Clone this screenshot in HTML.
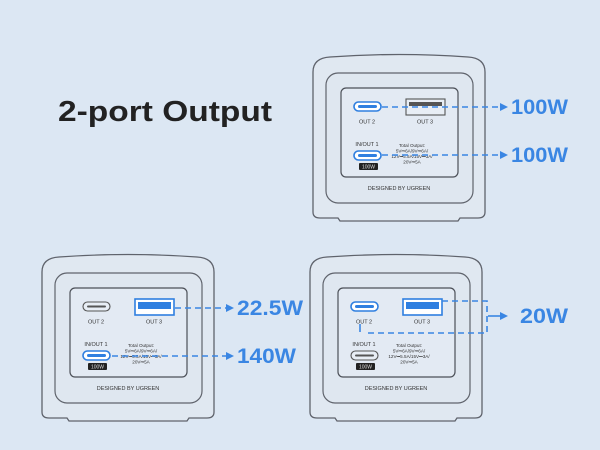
<!DOCTYPE html>
<html><head><meta charset="utf-8"><style>
html,body{margin:0;padding:0;width:600px;height:450px;overflow:hidden;background:#dce7f3;}
svg text{font-family:"Liberation Sans",sans-serif;}
</style></head><body>
<svg width="600" height="450" viewBox="0 0 600 450" xmlns="http://www.w3.org/2000/svg">
<defs>
<g id="dev">
  <path d="M313,72 Q313,58 330,57 Q399,52 468,57 Q485,58 485,72 L485,212 Q485,218 478,218 L460,218 L458,221 L340,221 L338,218 L320,218 Q313,218 313,212 Z" fill="#e0e8f1" stroke="#5f636c" stroke-width="1.3"/>
  <rect x="326" y="73" width="147" height="130" rx="12" fill="#dfe7f0" stroke="#5f636c" stroke-width="1.2"/>
  <rect x="341" y="88" width="117" height="89" rx="5" fill="#e3eaf3" stroke="#4c5058" stroke-width="1.2"/>
  <text x="367" y="123.5" font-size="5.5" text-anchor="middle" fill="#333">OUT 2</text>
  <text x="425" y="123.5" font-size="5.5" text-anchor="middle" fill="#333">OUT 3</text>
  <text x="367" y="146" font-size="5.5" text-anchor="middle" fill="#333">IN/OUT 1</text>
  <rect x="359" y="163" width="19" height="7" rx="1" fill="#222"/>
  <text x="368.5" y="168.6" font-size="5" text-anchor="middle" fill="#ddd">100W</text>
  <text x="412" y="147" font-size="4.6" text-anchor="middle" fill="#333">Total Output:</text>
  <text x="412" y="152.5" font-size="4.6" text-anchor="middle" fill="#333">5V⎓6A/9V⎓6A/</text>
  <text x="412" y="158" font-size="4.6" text-anchor="middle" fill="#333">12V⎓5.5A/15V⎓3A/</text>
  <text x="412" y="163.5" font-size="4.6" text-anchor="middle" fill="#333">20V⎓5A</text>
  <text x="399" y="190" font-size="5.5" text-anchor="middle" fill="#333">DESIGNED BY UGREEN</text>
</g>
<g id="cgray"><rect x="0" y="0" width="27" height="9" rx="4.5" fill="#e8eef5" stroke="#555" stroke-width="1.1"/><rect x="4" y="3.5" width="19" height="2" rx="1" fill="#555"/></g>
<g id="cblue"><rect x="0" y="0" width="27" height="9" rx="4.5" fill="#fff" stroke="#2f7fe0" stroke-width="1.6"/><rect x="4" y="3" width="19" height="3" rx="1.5" fill="#2f7fe0"/></g>
<g id="agray"><rect x="0" y="0" width="39" height="16" fill="#e8eef5" stroke="#555" stroke-width="1.1"/><rect x="3" y="3" width="33" height="4" fill="#555"/></g>
<g id="ablue"><rect x="0" y="0" width="39" height="16" fill="#fff" stroke="#2f7fe0" stroke-width="1.6"/><rect x="3" y="3" width="33" height="7" fill="#2f7fe0"/></g>
</defs>

<text x="58" y="121" font-size="29" font-weight="bold" fill="#222" textLength="214" lengthAdjust="spacingAndGlyphs">2-port Output</text>

<!-- top device -->
<use href="#dev"/>
<use href="#cblue" x="354" y="102"/>
<use href="#agray" x="406" y="99"/>
<use href="#cblue" x="354" y="151"/>
<g stroke="#3a86e3" stroke-width="1.6" stroke-dasharray="6,4" fill="none">
<line x1="382" y1="107" x2="500" y2="107"/>
<line x1="382" y1="155" x2="500" y2="155"/>
</g>
<g fill="#3a86e3"><polygon points="500,103 508,107 500,111"/><polygon points="500,151 508,155 500,159"/></g>
<text x="511" y="114" font-size="21" font-weight="bold" fill="#3a86e3" textLength="57" lengthAdjust="spacingAndGlyphs">100W</text>
<text x="511" y="162" font-size="21" font-weight="bold" fill="#3a86e3" textLength="57" lengthAdjust="spacingAndGlyphs">100W</text>

<!-- bottom left -->
<g transform="translate(-271,200)"><use href="#dev"/>
<use href="#cgray" x="354" y="102"/>
<use href="#ablue" x="406" y="99"/>
<use href="#cblue" x="354" y="151"/></g>
<g stroke="#3a86e3" stroke-width="1.6" stroke-dasharray="6,4" fill="none">
<line x1="175" y1="308" x2="226" y2="308"/>
<line x1="112" y1="356" x2="226" y2="356"/>
</g>
<g fill="#3a86e3"><polygon points="226,304 234,308 226,312"/><polygon points="226,352 234,356 226,360"/></g>
<text x="237" y="315" font-size="21" font-weight="bold" fill="#3a86e3" textLength="66" lengthAdjust="spacingAndGlyphs">22.5W</text>
<text x="237" y="363" font-size="21" font-weight="bold" fill="#3a86e3" textLength="59" lengthAdjust="spacingAndGlyphs">140W</text>

<!-- bottom right -->
<g transform="translate(-3,200)"><use href="#dev"/>
<use href="#cblue" x="354" y="102"/>
<use href="#ablue" x="406" y="99"/>
<use href="#cgray" x="354" y="151"/></g>
<g stroke="#3a86e3" stroke-width="1.6" stroke-dasharray="6,4" fill="none">
<polyline points="442,301 487,301 487,333 364,333"/>
<line x1="360" y1="324" x2="360" y2="332" stroke-dasharray="none"/>
<line x1="488" y1="316" x2="500" y2="316" stroke-dasharray="none"/>
</g>
<g fill="#3a86e3"><polygon points="500,312 508,316 500,320"/></g>
<text x="520" y="323" font-size="21" font-weight="bold" fill="#3a86e3" textLength="48" lengthAdjust="spacingAndGlyphs">20W</text>
</svg>
</body></html>
